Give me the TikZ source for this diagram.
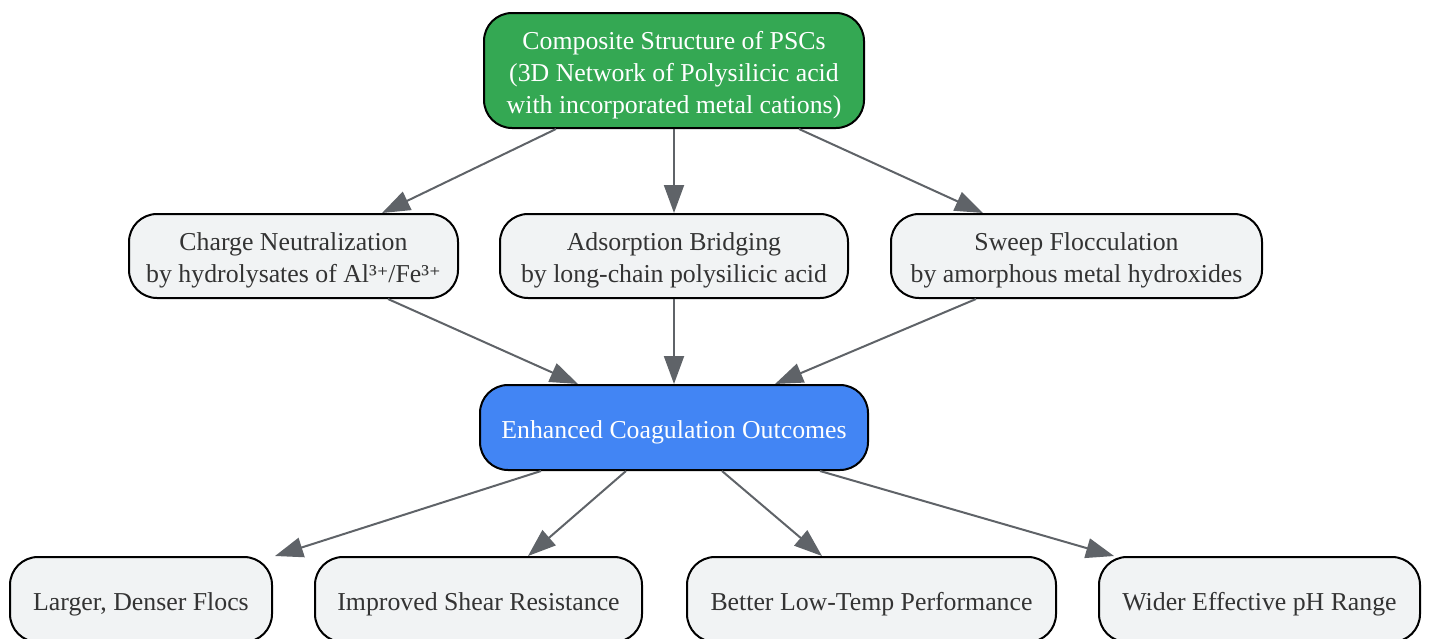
\documentclass[tikz,border=0pt]{standalone}
\usepackage{fontspec}
\setmainfont{Liberation Serif}
\newfontfamily\supfont{DejaVu Serif}
\usetikzlibrary{arrows.meta}
\definecolor{gGreen}{HTML}{34A853}
\definecolor{gBlue}{HTML}{4285F4}
\definecolor{gLight}{HTML}{F1F3F4}
\definecolor{gText}{HTML}{333333}
\definecolor{gEdge}{HTML}{5F6368}
\newcommand{\boxtext}[1]{\raisebox{-4.5pt}[\height][\depth]{\begin{tabular}{@{}c@{}}#1\end{tabular}}}
\newcommand{\supplus}{{\supfont\fontsize{22pt}{32pt}\selectfont ⁺}}
\tikzset{
  box/.style={draw=black, line width=2pt, rounded corners=28pt, rectangle,
    inner sep=0pt, font=\fontsize{25.8pt}{32pt}\selectfont},
  lightbox/.style={box, fill=gLight, text=gText},
  greenbox/.style={box, fill=gGreen, text=white},
  bluebox/.style={box, fill=gBlue, text=white},
  conn/.style={draw=gEdge, line width=2pt,
    -{Triangle[length=28pt,width=20pt]}},
}
\begin{document}
\begin{tikzpicture}[x=1pt,y=-1pt]
\useasboundingbox (0,0) rectangle (1429,638);
\node[greenbox, minimum width=380pt, minimum height=115pt] (top) at (674,70.5)
  {\boxtext{Composite Structure of PSCs\\(3D Network of Polysilicic acid\\with incorporated metal cations)}};
\node[lightbox, minimum width=329pt, minimum height=84pt] (charge) at (293.5,256)
  {\boxtext{Charge Neutralization\\by hydrolysates of Al³\supplus/Fe³\supplus}};
\node[lightbox, minimum width=348pt, minimum height=84pt] (adsorb) at (674,256)
  {\boxtext{Adsorption Bridging\\by long-chain polysilicic acid}};
\node[lightbox, minimum width=371pt, minimum height=84pt] (sweep) at (1076.5,256)
  {\boxtext{Sweep Flocculation\\by amorphous metal hydroxides}};
\node[bluebox, minimum width=388pt, minimum height=85pt] (enh) at (674,427.5)
  {\boxtext{Enhanced Coagulation Outcomes}};
\node[lightbox, minimum width=262pt, minimum height=85pt] (larger) at (141,599.5)
  {\boxtext{Larger, Denser Flocs}};
\node[lightbox, minimum width=327pt, minimum height=85pt] (shear) at (478.5,599.5)
  {\boxtext{Improved Shear Resistance}};
\node[lightbox, minimum width=369pt, minimum height=85pt] (temp) at (871.5,599.5)
  {\boxtext{Better Low-Temp Performance}};
\node[lightbox, minimum width=321pt, minimum height=85pt] (ph) at (1259.5,599.5)
  {\boxtext{Wider Effective pH Range}};

\draw[conn] ([xshift=-118pt]top.south) -- ([xshift=88.5pt]charge.north);
\draw[conn] (top.south) -- (adsorb.north);
\draw[conn] ([xshift=125pt]top.south) -- ([xshift=-93.5pt]sweep.north);

\draw[conn] ([xshift=94.5pt]charge.south) -- ([xshift=-96pt]enh.north);
\draw[conn] (adsorb.south) -- (enh.north);
\draw[conn] ([xshift=-100.5pt]sweep.south) -- ([xshift=101pt]enh.north);

\draw[conn] ([xshift=-133pt]enh.south) -- ([xshift=134pt]larger.north);
\draw[conn] ([xshift=-48pt]enh.south) -- ([xshift=49.5pt]shear.north);
\draw[conn] ([xshift=48pt]enh.south) -- ([xshift=-49.5pt]temp.north);
\draw[conn] ([xshift=146pt]enh.south) -- ([xshift=-145.5pt]ph.north);
\end{tikzpicture}
\end{document}
